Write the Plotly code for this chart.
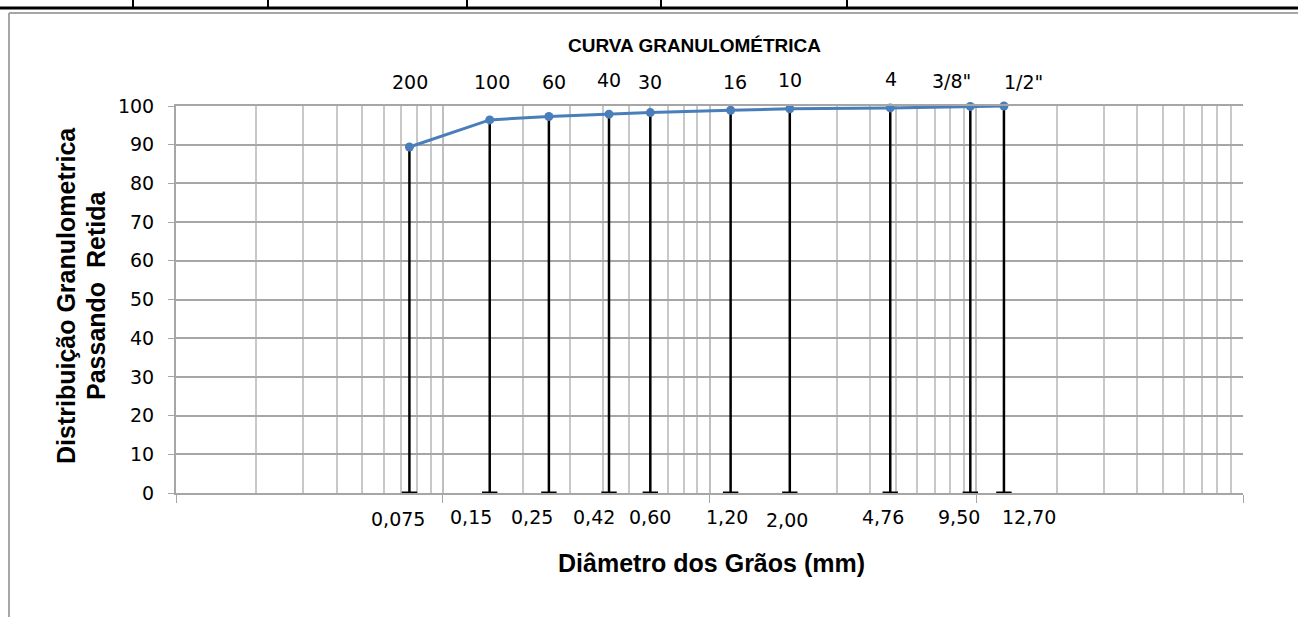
import numpy as np
import plotly.graph_objects as go

# dados da granulometria
peneiras = ['200', '100', '60', '40', '30', '16', '10', '4', '3/8"', '1/2"']
diametros = [0.075, 0.15, 0.25, 0.42, 0.60, 1.20, 2.00, 4.76, 9.50, 12.70]
rotulos_diam = ['0,075', '0,15', '0,25', '0,42', '0,60', '1,20', '2,00', '4,76', '9,50', '12,70']
passando = [89.4, 96.4, 97.3, 97.9, 98.3, 98.9, 99.3, 99.5, 99.9, 100.0]

W, H = 1298, 617
L, R, T, B = 176, 1243, 106, 493


def px(xp):
    return (xp - L) / (R - L)


def py(yp):
    return (B - yp) / (B - T)


fig = go.Figure()

# linhas verticais pretas (tipo barra de erro) de 0 até o ponto
vx, vy = [], []
for d, p in zip(diametros, passando):
    vx += [d, d, None]
    vy += [0, p, None]
fig.add_trace(go.Scatter(
    x=vx, y=vy, mode='lines',
    line=dict(color='black', width=2.5),
    hoverinfo='skip', showlegend=False
))
# tampinha na base
fig.add_trace(go.Scatter(
    x=diametros, y=[0] * len(diametros), mode='markers',
    marker=dict(symbol='line-ew-open', size=11, color='black',
                line=dict(color='black', width=3)),
    hoverinfo='skip', showlegend=False, cliponaxis=False
))

# curva
fig.add_trace(go.Scatter(
    x=diametros, y=passando, mode='lines+markers',
    line=dict(color='#4a7ebb', width=3),
    marker=dict(color='#4a7ebb', size=9),
    showlegend=False, cliponaxis=False
))

fonte_num = dict(family='DejaVu Sans, sans-serif', size=19, color='black')

# rótulos das peneiras (topo) e diâmetros (base)
off_topo_x = [1, 2, 5, 0, 0, 4, 0, 1, -19, 20]
off_topo_y = [0, 0, 0, 2, 0, 0, 2, 3, 1, 0]
off_base_x = [-11, -19, -17, -15, 0, -4, -3, -7, -11, 25]
off_base_y = [-2, 0, 0, 0, 0, 0, -3, 0, 0, 0]
for i, d in enumerate(diametros):
    fig.add_annotation(
        x=np.log10(d), y=1, xref='x', yref='paper',
        text=peneiras[i], showarrow=False,
        xshift=off_topo_x[i], yshift=24 + off_topo_y[i],
        xanchor='center', yanchor='middle', font=fonte_num
    )
    fig.add_annotation(
        x=np.log10(d), y=0, xref='x', yref='paper',
        text=rotulos_diam[i], showarrow=False,
        xshift=off_base_x[i], yshift=-24 + off_base_y[i],
        xanchor='center', yanchor='middle', font=fonte_num
    )

fonte_tit = dict(family='Liberation Sans, Arial, sans-serif', size=19, color='black')
fonte_eixo = dict(family='Liberation Sans, Arial, sans-serif', size=25, color='black')

titulos = [
    (694, 45, '<b>CURVA GRANULOMÉTRICA</b>', 0, fonte_tit),
    (711, 563, '<b>Diâmetro dos Grãos (mm)</b>', 0, fonte_eixo),
    (66, 296, '<b>Distribuição Granulometrica</b>', -90, fonte_eixo),
    (96, 296, '<b>Passando  Retida</b>', -90, fonte_eixo),
]
for tx, ty, txt, ang, fnt in titulos:
    fig.add_annotation(
        x=px(tx), y=py(ty), xref='paper', yref='paper',
        text=txt, showarrow=False, textangle=ang,
        xanchor='center', yanchor='middle', font=fnt
    )

# moldura do gráfico e restos da tabela acima
shapes = [
    dict(type='line', x0=px(0), x1=px(W), y0=py(8), y1=py(8),
         line=dict(color='black', width=3)),
    dict(type='line', x0=px(9), x1=px(W), y0=py(13), y1=py(13),
         line=dict(color='#a6a6a6', width=2)),
    dict(type='line', x0=px(9), x1=px(9), y0=py(13), y1=py(H),
         line=dict(color='#a6a6a6', width=2)),
]
for sx in [133, 268, 467, 661, 847]:
    shapes.append(dict(type='line', x0=px(sx), x1=px(sx), y0=py(0), y1=py(7),
                       line=dict(color='black', width=2)))
for s in shapes:
    s.update(xref='paper', yref='paper', layer='above')

fig.update_layout(
    width=W, height=H,
    margin=dict(l=L, r=W - R, t=T, b=H - B),
    paper_bgcolor='white', plot_bgcolor='white',
    shapes=shapes,
    xaxis=dict(
        type='log', range=[-2, 2], dtick=1,
        showticklabels=False, ticks='outside', ticklen=8, tickcolor='#a6a6a6',
        showgrid=True, gridcolor='#bfbfbf', gridwidth=2,
        minor=dict(dtick='D1', showgrid=True, gridcolor='#c8c8c8', gridwidth=2),
        showline=True, linecolor='#a6a6a6', linewidth=2, mirror=True,
        zeroline=False
    ),
    yaxis=dict(
        range=[0, 100], dtick=10,
        ticks='outside', ticklen=6, tickcolor='#a6a6a6',
        ticklabelstandoff=10,
        showgrid=True, gridcolor='#a6a6a6', gridwidth=2,
        showline=True, linecolor='#a6a6a6', linewidth=2,
        zeroline=False,
        tickfont=fonte_num
    ),
)

fig.write_html("out.html", config={'displayModeBar': False},
               post_script="document.body.style.margin='0';")
